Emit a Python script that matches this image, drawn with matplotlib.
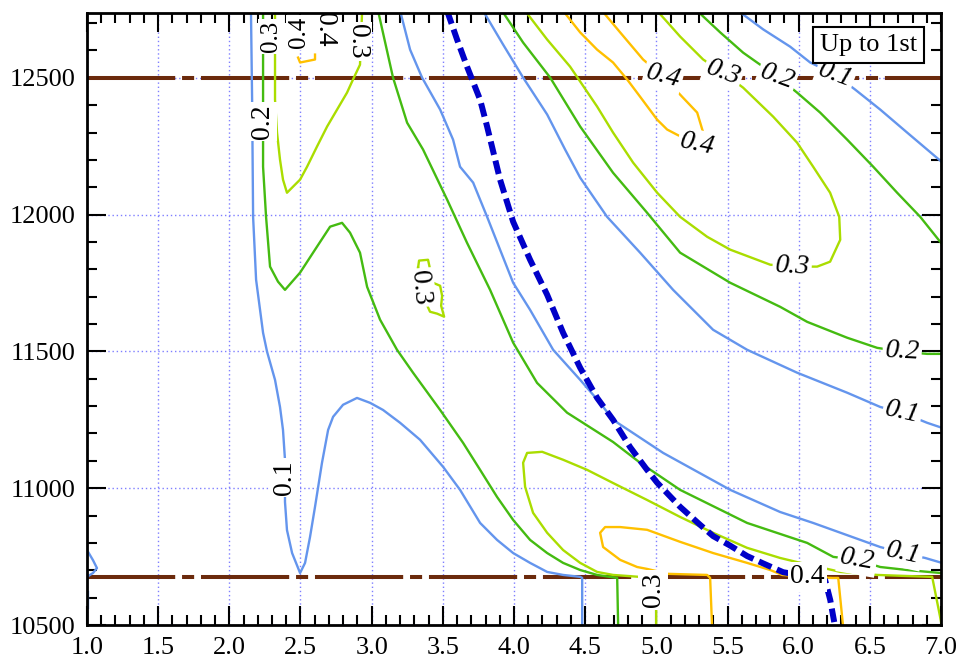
import matplotlib
matplotlib.use('Agg')
import matplotlib.pyplot as plt
from matplotlib.ticker import MultipleLocator, FormatStrFormatter
import numpy as np

plt.rcParams['font.family'] = ['Liberation Serif', 'DejaVu Serif']

# contour levels and the colour used for each
levels = [0.1, 0.2, 0.3, 0.4]
level_colors = ['#6495ED', '#44BB11', '#AADD00', '#FFC000']

# --- 0.1 contour pieces (x, y) ---
c01_left = [(2.152, 12745), (2.160, 12420), (2.167, 11992), (2.188, 11762), (2.237, 11568),
            (2.265, 11499), (2.321, 11396), (2.356, 11297), (2.377, 11213), (2.391, 11104),
            (2.391, 10950), (2.405, 10847), (2.441, 10763), (2.497, 10690), (2.532, 10727),
            (2.567, 10822), (2.602, 10932), (2.651, 11093), (2.694, 11213), (2.729, 11261),
            (2.799, 11305), (2.897, 11330), (2.989, 11312), (3.080, 11286), (3.200, 11239),
            (3.340, 11177), (3.502, 11078), (3.621, 10994), (3.762, 10873), (3.881, 10811),
            (3.994, 10763), (4.113, 10727), (4.233, 10694), (4.345, 10683), (4.465, 10676),
            (4.479, 10672), (4.479, 10490)]
c01_corner = [(1.0, 10774), (1.042, 10737), (1.07, 10708), (1.042, 10690), (1.0, 10676)]
c01_edge = [(1.004, 10621), (1.004, 10562)]
c01_mid = [(3.200, 12745), (3.270, 12603), (3.354, 12501), (3.481, 12384), (3.572, 12274),
           (3.621, 12175), (3.713, 12117), (3.811, 11992), (3.902, 11872), (3.994, 11751),
           (4.113, 11652), (4.275, 11506), (4.465, 11396), (4.605, 11312), (4.696, 11250),
           (5.048, 11129), (5.519, 10994), (5.870, 10913), (6.102, 10873), (6.573, 10785),
           (6.734, 10763), (6.889, 10745), (7.0, 10728)]
c01_right = [(3.783, 12745), (3.923, 12622), (4.064, 12501), (4.233, 12366), (4.359, 12238),
             (4.465, 12135), (4.654, 11992), (4.886, 11861), (5.118, 11725), (5.399, 11579),
             (5.638, 11506), (5.990, 11422), (6.341, 11349), (6.573, 11297), (6.727, 11276),
             (6.903, 11239), (7.0, 11222)]
c01_top = [(5.575, 12745), (5.751, 12677), (5.940, 12614), (6.081, 12556), (6.257, 12512),
           (6.397, 12457), (6.573, 12384), (6.762, 12300), (7.0, 12195)]

# --- 0.2 contour pieces ---
c02_left = [(2.237, 12745), (2.237, 12420), (2.237, 12175), (2.258, 11992), (2.286, 11810),
            (2.342, 11755), (2.391, 11725), (2.497, 11788), (2.616, 11883), (2.708, 11956),
            (2.792, 11970), (2.848, 11934), (2.918, 11861), (2.968, 11736), (3.059, 11616),
            (3.178, 11506), (3.291, 11422), (3.481, 11286), (3.642, 11166), (3.762, 11067),
            (3.881, 10968), (3.994, 10884), (4.113, 10811), (4.233, 10763), (4.345, 10727),
            (4.465, 10701), (4.584, 10683), (4.725, 10672), (4.732, 10490)]
c02_mid = [(3.045, 12745), (3.150, 12501), (3.249, 12336), (3.361, 12238), (3.530, 12055),
           (3.670, 11897), (3.832, 11725), (3.994, 11532), (4.162, 11385), (4.373, 11276),
           (4.696, 11169), (4.886, 11093), (5.167, 10994), (5.638, 10873), (6.060, 10800),
           (6.243, 10749), (6.411, 10738), (6.573, 10712), (6.762, 10701), (7.0, 10690)]
c02_upper = [(3.916, 12745), (4.064, 12629), (4.254, 12501), (4.465, 12322), (4.696, 12153),
             (4.935, 12007), (5.167, 11861), (5.519, 11751), (5.870, 11663), (6.060, 11608),
             (6.341, 11550), (6.552, 11513), (6.727, 11499), (6.903, 11491), (7.0, 11491)]
c02_top = [(5.287, 12745), (5.449, 12666), (5.610, 12592), (5.708, 12556), (5.849, 12505),
           (5.989, 12446), (6.151, 12373), (6.341, 12274), (6.524, 12175), (6.692, 12080),
           (6.854, 11992), (7.0, 11897)]

# --- 0.3 contour pieces ---
c03_left = [(2.321, 12745), (2.321, 12420), (2.335, 12300), (2.356, 12201), (2.377, 12128),
            (2.405, 12080), (2.497, 12128), (2.546, 12175), (2.616, 12249), (2.687, 12322),
            (2.757, 12384), (2.827, 12446), (2.869, 12494), (2.918, 12548), (2.933, 12745)]
c03_blob = [(3.326, 11806), (3.333, 11832), (3.396, 11835), (3.431, 11751), (3.481, 11740),
            (3.495, 11703), (3.488, 11667), (3.509, 11627), (3.460, 11638), (3.410, 11645),
            (3.340, 11725), (3.326, 11806)]
c03_top = [(4.078, 12745), (4.233, 12640), (4.394, 12541), (4.584, 12395), (4.696, 12300),
           (4.837, 12190), (5.006, 12080), (5.167, 11992), (5.357, 11919), (5.519, 11872),
           (5.800, 11817), (5.954, 11810), (6.130, 11810), (6.221, 11828), (6.292, 11908),
           (6.285, 11992), (6.221, 12080), (6.102, 12175), (5.989, 12263), (5.821, 12358),
           (5.610, 12464), (5.469, 12519), (5.329, 12567), (5.167, 12651), (5.006, 12745)]
c03_low = [(4.999, 10490), (4.999, 10672), (4.880, 10676), (4.696, 10683), (4.584, 10694),
           (4.465, 10727), (4.345, 10774), (4.233, 10837), (4.134, 10910), (4.078, 11005),
           (4.064, 11093), (4.092, 11129), (4.198, 11133), (4.345, 11104), (4.514, 11067),
           (4.696, 11019), (4.935, 10957), (5.167, 10895), (5.399, 10837), (5.638, 10782),
           (5.870, 10745), (5.989, 10730), (6.236, 10701), (6.292, 10694), (6.552, 10683),
           (6.762, 10679), (6.938, 10676), (6.994, 10529), (7.008, 10490)]

# --- 0.4 contour pieces ---
c04_top = [(4.345, 12745), (4.465, 12666), (4.584, 12603), (4.696, 12556), (4.795, 12494),
           (4.886, 12431), (5.006, 12347), (5.076, 12311), (5.146, 12292), (5.287, 12256),
           (5.329, 12300), (5.287, 12373), (5.181, 12431), (5.048, 12505), (4.907, 12567),
           (4.746, 12666), (4.619, 12745)]
c04_bracket = [(2.483, 12574), (2.497, 12556), (2.602, 12567), (2.602, 12585)]
c04_low = [(5.392, 10490), (5.378, 10672), (5.357, 10683), (5.083, 10687), (4.935, 10705),
           (4.865, 10712), (4.746, 10738), (4.626, 10785), (4.605, 10837), (4.640, 10858),
           (4.746, 10858), (4.935, 10848), (5.167, 10804), (5.399, 10763), (5.638, 10727),
           (5.800, 10701), (5.884, 10683), (6.060, 10676), (6.236, 10672), (6.278, 10672),
           (6.313, 10490)]

# boundary curve (thick blue dashes)
boundary = [(3.530, 12745), (3.600, 12640), (3.670, 12541), (3.762, 12420), (3.811, 12322),
            (3.902, 12128), (3.994, 11974), (4.113, 11835), (4.233, 11707), (4.345, 11568),
            (4.465, 11440), (4.584, 11330), (4.696, 11250), (4.816, 11150), (4.935, 11067),
            (5.006, 11020), (5.167, 10932), (5.308, 10866), (5.399, 10825), (5.519, 10790),
            (5.638, 10752), (5.751, 10725), (5.891, 10693), (6.081, 10676), (6.186, 10664),
            (6.222, 10591), (6.257, 10490)]

# horizontal reference levels
ref_levels = [12500, 10675]

# contour labels: level, x, y, rotation, italic, size
label_level = [0.1, 0.2, 0.3, 0.4, 0.4, 0.3, 0.3, 0.4, 0.4, 0.3, 0.2, 0.1,
               0.3, 0.2, 0.1, 0.1, 0.2, 0.4, 0.3]
label_x = [2.391, 2.230, 2.290, 2.492, 2.672, 2.897, 3.340, 5.048, 5.287, 5.469, 5.849, 6.257,
           5.954, 6.727, 6.727, 6.734, 6.411, 6.060, 4.978]
label_y = [11038, 12340, 12651, 12665, 12676, 12633, 11733, 12505, 12256, 12519, 12505, 12512,
           11810, 11499, 11276, 10763, 10738, 10676, 10628]
label_rot = [90, 90, 90, 90, -90, -90, -85, -15, -12, -20, -20, -20,
             -3, -3, -12, -12, -10, 0, 90]
label_italic = [False, False, False, False, False, False, False, True, True, True, True, True,
                True, True, True, True, True, False, False]
label_size = [20, 20, 18, 18, 20, 20, 20, 20, 20, 20, 20, 20,
              20, 20, 20, 20, 20, 20, 20]

contour_pieces = [
    (c01_left, 0), (c01_corner, 0), (c01_edge, 0), (c01_mid, 0), (c01_right, 0), (c01_top, 0),
    (c02_left, 1), (c02_mid, 1), (c02_upper, 1), (c02_top, 1),
    (c03_left, 2), (c03_blob, 2), (c03_top, 2), (c03_low, 2),
    (c04_top, 3), (c04_bracket, 3), (c04_low, 3),
]

fig = plt.figure(figsize=(9.58, 6.67), dpi=100)
ax = fig.add_axes([87 / 958, 1 - 625 / 667, 854 / 958, 612 / 667])

ax.set_xlim(1.0, 7.0)
ax.set_ylim(10500, 12737)

# dotted grid underneath
ax.set_axisbelow(True)
ax.grid(which='major', color='#7F7FFF', linestyle=(0, (1, 2)), linewidth=1.0)

for path, li in contour_pieces:
    xs, ys = np.array(path).T
    ax.plot(xs, ys, color=level_colors[li], lw=1.7, zorder=3, solid_joinstyle='round')

for yref in ref_levels:
    ax.axhline(yref, color='#6B2A0C', lw=2.9, linestyle=(0, (21.9, 1.7, 3.0, 1.7)), zorder=2)

bx, by = np.array(boundary).T
ax.plot(bx, by, color='#0000C8', lw=4.3, linestyle=(0, (2.3, 1.0)), zorder=4)

for lev, lx, ly, rot, it, fs in zip(label_level, label_x, label_y, label_rot,
                                    label_italic, label_size):
    ax.text(lx, ly, f"{lev:.1f}", fontsize=fs, rotation=rot, rotation_mode='anchor',
            ha='center', va='center', style='italic' if it else 'normal', zorder=6,
            clip_on=True,
            bbox=dict(boxstyle='square,pad=0.08', fc='white', ec='none'))

ax.text(0.915, 0.948, 'Up to 1st', transform=ax.transAxes, fontsize=19,
        ha='center', va='center', zorder=7,
        bbox=dict(boxstyle='square,pad=0.26', fc='white', ec='black', lw=1.5))

ax.xaxis.set_major_locator(MultipleLocator(0.5))
ax.xaxis.set_minor_locator(MultipleLocator(0.1))
ax.xaxis.set_major_formatter(FormatStrFormatter('%.1f'))
ax.yaxis.set_major_locator(MultipleLocator(500))
ax.yaxis.set_minor_locator(MultipleLocator(100))

ax.tick_params(which='both', direction='in', top=True, right=True, width=1.5, labelsize=19)
ax.tick_params(which='major', length=14)
ax.tick_params(which='minor', length=7)
ax.tick_params(axis='x', pad=9)
ax.tick_params(axis='y', pad=8)

for sp in ax.spines.values():
    sp.set_linewidth(2)
    sp.set_zorder(8)

fig.savefig('out.png', dpi=100)
